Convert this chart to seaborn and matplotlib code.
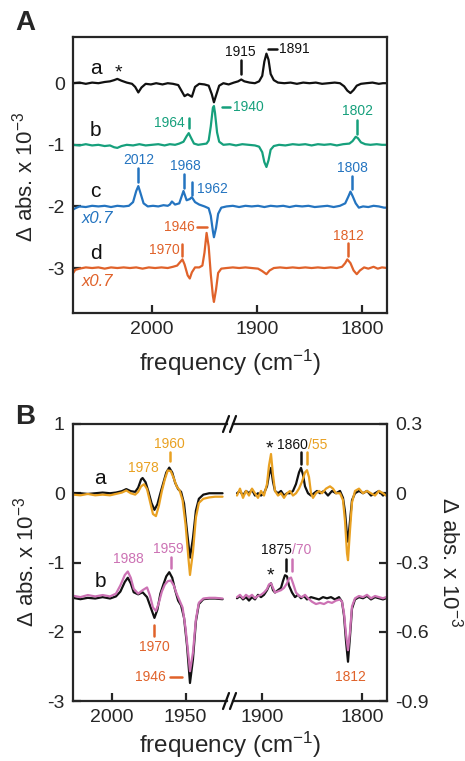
import matplotlib
matplotlib.use('Agg')
import matplotlib.pyplot as plt
from matplotlib.lines import Line2D
import pandas as pd
import seaborn as sns

# ---- spectra: (frequency cm-1, delta abs x 1e-3) ----
# panel A, traces already offset (a: 0, b: -1, c: -2, d: -3)
A_a = [(2075, 0.00), (2069, 0.01), (2063, -0.01), (2057, 0.01), (2051, 0.00), (2045, 0.02),
       (2040, 0.03), (2036, 0.05), (2033, 0.07), (2029, 0.04), (2024, 0.01), (2019, -0.01),
       (2016, -0.06), (2013, -0.15), (2010, -0.07), (2006, -0.01), (2001, -0.02), (1996, 0.00),
       (1990, -0.02), (1985, 0.00), (1980, -0.01), (1975, -0.03), (1972, -0.12), (1969, -0.21),
       (1966, -0.18), (1964, -0.20), (1962, -0.22), (1959, -0.06), (1955, -0.01), (1950, -0.02),
       (1946, -0.04), (1943, -0.18), (1941, -0.31), (1939, -0.20), (1936, -0.04), (1932, 0.00),
       (1927, -0.02), (1922, 0.01), (1918, 0.03), (1915, 0.06), (1912, 0.03), (1907, 0.01),
       (1902, 0.00), (1898, 0.03), (1895, 0.12), (1893, 0.35), (1891, 0.48), (1889, 0.38),
       (1887, 0.15), (1884, 0.05), (1880, 0.01), (1874, 0.00), (1868, 0.01), (1862, -0.01),
       (1856, 0.01), (1850, 0.00), (1844, 0.01), (1838, -0.01), (1832, 0.00), (1826, 0.01),
       (1821, 0.00), (1817, -0.05), (1814, -0.12), (1811, -0.16), (1808, -0.11), (1805, -0.04),
       (1801, -0.01), (1796, 0.00), (1790, 0.01), (1784, -0.01), (1780, 0.00), (1776, 0.00)]

A_b = [(2075, -1.00), (2069, -1.01), (2063, -0.99), (2057, -1.01), (2051, -1.00), (2045, -1.02),
       (2040, -1.01), (2036, -1.04), (2033, -1.05), (2029, -1.02), (2024, -1.00), (2018, -1.01),
       (2012, -0.99), (2006, -1.01), (2000, -1.00), (1994, -0.99), (1988, -1.01), (1983, -0.99),
       (1978, -1.00), (1974, -0.98), (1970, -0.95), (1967, -0.86), (1965, -0.81), (1963, -0.88),
       (1960, -0.98), (1956, -1.00), (1952, -0.99), (1948, -0.98), (1946, -0.93), (1944, -0.70),
       (1942, -0.40), (1941, -0.37), (1940, -0.48), (1938, -0.80), (1936, -0.95), (1932, -1.00),
       (1926, -0.99), (1920, -1.01), (1914, -0.99), (1908, -1.00), (1902, -1.01), (1898, -1.03),
       (1895, -1.12), (1893, -1.28), (1891, -1.36), (1889, -1.25), (1887, -1.08), (1884, -1.02),
       (1879, -1.00), (1873, -1.01), (1866, -0.99), (1860, -1.00), (1854, -0.99), (1848, -1.01),
       (1842, -0.99), (1836, -1.00), (1830, -0.99), (1824, -1.01), (1818, -0.99), (1812, -0.98),
       (1809, -0.94), (1806, -0.87), (1804, -0.89), (1801, -0.96), (1797, -0.99), (1792, -1.00),
       (1786, -0.99), (1781, -1.00), (1776, -1.00)]

A_c = [(2075, -2.05), (2073, -2.03), (2069, -2.00), (2063, -2.01), (2057, -1.99), (2051, -2.00),
       (2045, -1.99), (2039, -2.01), (2033, -1.99), (2027, -2.00), (2022, -1.99), (2018, -1.93),
       (2015, -1.75), (2013, -1.67), (2011, -1.78), (2008, -1.95), (2004, -2.00), (1999, -1.99),
       (1994, -2.00), (1989, -1.98), (1985, -1.99), (1983, -1.97), (1981, -1.92), (1978, -1.97),
       (1974, -1.95), (1972, -1.85), (1970, -1.75), (1967, -1.90), (1964, -1.88), (1962, -1.85),
       (1959, -1.93), (1955, -1.97), (1950, -2.00), (1946, -2.03), (1944, -2.15), (1942, -2.40),
       (1941, -2.50), (1939, -2.35), (1937, -2.12), (1934, -2.02), (1929, -2.00), (1923, -1.99),
       (1917, -2.01), (1911, -1.99), (1905, -2.00), (1899, -1.99), (1893, -2.01), (1887, -1.99),
       (1881, -2.00), (1875, -1.99), (1869, -2.01), (1863, -1.99), (1857, -2.00), (1851, -1.99),
       (1845, -2.01), (1839, -2.00), (1833, -1.99), (1827, -2.01), (1821, -1.99), (1816, -1.95),
       (1813, -1.84), (1811, -1.76), (1809, -1.83), (1806, -1.95), (1803, -2.02), (1799, -2.00),
       (1794, -2.01), (1789, -1.99), (1784, -2.00), (1779, -2.02), (1776, -2.02)]

A_d = [(2075, -3.08), (2073, -3.03), (2069, -3.01), (2063, -2.99), (2057, -3.00), (2051, -2.99),
       (2045, -3.01), (2039, -2.99), (2033, -3.00), (2027, -2.99), (2021, -3.00), (2015, -2.99),
       (2009, -3.01), (2003, -2.99), (1997, -3.00), (1991, -2.99), (1985, -3.00), (1980, -2.98),
       (1976, -2.96), (1973, -2.90), (1971, -2.86), (1969, -2.94), (1966, -3.12), (1964, -3.17),
       (1962, -3.07), (1959, -2.99), (1955, -2.99), (1952, -2.96), (1950, -2.75), (1948, -2.43),
       (1946, -2.65), (1944, -3.10), (1942, -3.45), (1941, -3.55), (1939, -3.35), (1937, -3.08),
       (1934, -3.01), (1929, -3.00), (1923, -2.99), (1917, -3.00), (1911, -2.99), (1905, -3.00),
       (1899, -3.01), (1895, -3.05), (1891, -3.10), (1888, -3.04), (1884, -3.00), (1878, -2.99),
       (1872, -3.00), (1866, -2.99), (1860, -3.00), (1854, -2.99), (1848, -3.00), (1842, -2.99),
       (1836, -3.00), (1830, -2.99), (1824, -3.00), (1819, -2.98), (1816, -2.92), (1814, -2.86),
       (1811, -2.92), (1808, -3.04), (1805, -3.10), (1802, -3.04), (1798, -2.99), (1794, -3.01),
       (1789, -2.98), (1785, -3.01), (1781, -2.99), (1776, -3.00)]

# panel B, left segment (left axis), a at 0, b at -1.5
B_a_black_L = [(2026, 0.00), (2021, 0.00), (2016, -0.01), (2011, 0.00), (2006, 0.01), (2001, 0.00),
               (1997, 0.01), (1993, 0.03), (1990, 0.06), (1987, 0.03), (1984, 0.02), (1982, 0.08),
               (1980, 0.20), (1979, 0.22), (1977, 0.16), (1975, 0.02), (1973, -0.14), (1971, -0.24),
               (1969, -0.16), (1967, 0.00), (1965, 0.15), (1963, 0.30), (1961, 0.37), (1959, 0.30),
               (1957, 0.15), (1955, 0.06), (1953, 0.02), (1951, -0.15), (1949, -0.55), (1947, -0.93),
               (1945, -0.65), (1943, -0.25), (1941, -0.08), (1938, -0.02), (1934, 0.00), (1930, 0.00),
               (1925, 0.00)]
B_a_gold_L = [(2026, -0.02), (2021, -0.03), (2016, -0.01), (2011, -0.03), (2006, -0.02), (2001, -0.03),
              (1997, -0.01), (1993, 0.01), (1990, 0.04), (1987, 0.00), (1984, -0.02), (1982, 0.02),
              (1980, 0.10), (1978, 0.13), (1976, 0.06), (1974, -0.12), (1972, -0.30), (1970, -0.33),
              (1968, -0.18), (1966, 0.03), (1964, 0.20), (1962, 0.33), (1960, 0.32), (1958, 0.22),
              (1956, 0.10), (1954, 0.04), (1952, -0.10), (1950, -0.45), (1948, -0.95), (1947, -1.18),
              (1945, -0.85), (1943, -0.35), (1941, -0.14), (1938, -0.08), (1934, -0.06), (1930, -0.05),
              (1925, -0.05)]
B_b_black_L = [(2026, -1.51), (2021, -1.53), (2016, -1.51), (2011, -1.52), (2006, -1.50), (2001, -1.52),
               (1997, -1.49), (1994, -1.42), (1991, -1.28), (1989, -1.22), (1987, -1.30), (1985, -1.43),
               (1982, -1.46), (1979, -1.43), (1976, -1.50), (1973, -1.68), (1971, -1.80), (1969, -1.68),
               (1967, -1.45), (1965, -1.32), (1963, -1.20), (1961, -1.14), (1959, -1.22), (1957, -1.40),
               (1955, -1.55), (1953, -1.62), (1951, -1.80), (1949, -2.20), (1947, -2.74), (1945, -2.40),
               (1943, -1.85), (1941, -1.60), (1938, -1.53), (1934, -1.52), (1930, -1.52), (1925, -1.53)]
B_b_pink_L = [(2026, -1.48), (2021, -1.50), (2016, -1.47), (2011, -1.49), (2006, -1.47), (2001, -1.49),
              (1997, -1.45), (1994, -1.33), (1991, -1.18), (1989, -1.13), (1987, -1.22), (1985, -1.38),
              (1982, -1.45), (1979, -1.40), (1976, -1.36), (1974, -1.48), (1972, -1.65), (1970, -1.70),
              (1968, -1.58), (1966, -1.42), (1964, -1.32), (1962, -1.27), (1960, -1.26), (1958, -1.33),
              (1956, -1.45), (1954, -1.55), (1952, -1.65), (1950, -1.95), (1948, -2.35), (1947, -2.57),
              (1945, -2.30), (1943, -1.82), (1941, -1.58), (1938, -1.52), (1934, -1.51), (1930, -1.51),
              (1925, -1.52)]

# panel B, right segment (right axis, 0.3 scale), a at 0, b at -0.45
B_a_black_R = [(1925, 0.00), (1922, 0.01), (1919, -0.01), (1916, 0.01), (1913, 0.00), (1910, 0.015),
               (1907, -0.01), (1904, 0.00), (1901, -0.01), (1898, 0.00), (1895, 0.03), (1893, 0.08),
               (1891, 0.11), (1889, 0.05), (1887, 0.01), (1884, 0.00), (1881, 0.01), (1878, -0.01),
               (1875, 0.00), (1872, 0.00), (1869, 0.01), (1866, 0.04), (1863, 0.09), (1861, 0.11),
               (1859, 0.08), (1857, 0.03), (1854, 0.00), (1851, -0.01), (1848, 0.00), (1845, 0.01),
               (1842, 0.00), (1838, 0.01), (1834, -0.01), (1830, 0.01), (1826, 0.00), (1822, 0.01),
               (1819, -0.02), (1817, -0.08), (1815, -0.18), (1814, -0.21), (1812, -0.12), (1810, -0.03),
               (1807, 0.00), (1803, 0.01), (1799, 0.00), (1795, 0.01), (1791, -0.01), (1787, 0.00),
               (1783, 0.01), (1779, -0.01), (1776, 0.00)]
B_a_gold_R = [(1925, -0.01), (1922, 0.02), (1919, -0.02), (1916, 0.01), (1913, -0.01), (1910, 0.02),
              (1907, 0.00), (1904, -0.02), (1901, 0.01), (1898, -0.01), (1895, 0.04), (1893, 0.12),
              (1891, 0.17), (1889, 0.08), (1887, 0.01), (1884, -0.01), (1881, 0.00), (1878, -0.02),
              (1875, 0.00), (1872, 0.01), (1869, -0.01), (1866, 0.00), (1863, 0.02), (1860, 0.05),
              (1857, 0.09), (1855, 0.10), (1853, 0.07), (1851, 0.00), (1849, -0.02), (1846, 0.00),
              (1843, 0.01), (1840, 0.00), (1836, 0.02), (1832, 0.03), (1829, 0.02), (1826, 0.00),
              (1822, 0.00), (1819, -0.03), (1817, -0.12), (1815, -0.26), (1814, -0.29), (1812, -0.16),
              (1810, -0.04), (1807, 0.01), (1803, 0.02), (1799, 0.00), (1795, 0.01), (1791, 0.00),
              (1787, -0.01), (1783, 0.01), (1779, 0.00), (1776, -0.01)]
B_b_black_R = [(1925, -0.455), (1922, -0.445), (1919, -0.46), (1916, -0.45), (1913, -0.465), (1910, -0.45),
               (1907, -0.46), (1904, -0.44), (1901, -0.45), (1898, -0.44), (1895, -0.42), (1893, -0.40),
               (1891, -0.39), (1889, -0.42), (1887, -0.43), (1884, -0.42), (1881, -0.41), (1879, -0.38),
               (1877, -0.355), (1875, -0.36), (1873, -0.40), (1870, -0.43), (1867, -0.45), (1864, -0.44),
               (1861, -0.455), (1858, -0.445), (1855, -0.46), (1851, -0.45), (1847, -0.455), (1843, -0.46),
               (1839, -0.45), (1835, -0.455), (1831, -0.45), (1827, -0.46), (1823, -0.45), (1820, -0.47),
               (1818, -0.53), (1816, -0.64), (1814, -0.73), (1812, -0.62), (1810, -0.50), (1807, -0.46),
               (1803, -0.45), (1799, -0.455), (1795, -0.445), (1791, -0.46), (1787, -0.45), (1783, -0.455),
               (1779, -0.46), (1776, -0.455)]
B_b_pink_R = [(1925, -0.45), (1922, -0.44), (1919, -0.455), (1916, -0.44), (1913, -0.45), (1910, -0.44),
              (1907, -0.455), (1904, -0.445), (1901, -0.44), (1898, -0.43), (1895, -0.415), (1893, -0.395),
              (1891, -0.39), (1889, -0.41), (1887, -0.43), (1884, -0.425), (1881, -0.42), (1878, -0.41),
              (1875, -0.39), (1873, -0.37), (1871, -0.365), (1869, -0.39), (1866, -0.43), (1863, -0.445),
              (1860, -0.45), (1857, -0.44), (1854, -0.455), (1850, -0.47), (1846, -0.48), (1842, -0.475),
              (1838, -0.48), (1834, -0.47), (1830, -0.475), (1826, -0.465), (1822, -0.46), (1820, -0.47),
              (1818, -0.52), (1816, -0.61), (1814, -0.68), (1812, -0.60), (1810, -0.49), (1807, -0.455),
              (1803, -0.445), (1799, -0.45), (1795, -0.44), (1791, -0.455), (1787, -0.445), (1783, -0.45),
              (1779, -0.455), (1776, -0.45)]

A_xticks = [2000, 1900, 1800]
A_yticks = [0, -1, -2, -3]
BL_xticks = [2000, 1950]
BR_xticks = [1900, 1800]
BL_yticks = [1, 0, -1, -2, -3]
BR_yticks = [0.3, 0, -0.3, -0.6, -0.9]

BLACK = '#111111'
GREEN = '#16a07c'
BLUE = '#2474c0'
ORANGE = '#e0622a'
GOLD = '#e9a122'
PINK = '#cc72b4'

sns.set_style('ticks')
plt.rcParams['font.family'] = ['Liberation Sans', 'DejaVu Sans']
plt.rcParams['mathtext.fontset'] = 'custom'
plt.rcParams['mathtext.rm'] = 'Liberation Sans'
plt.rcParams['mathtext.it'] = 'Liberation Sans:italic'
plt.rcParams['axes.unicode_minus'] = False
plt.rcParams['axes.linewidth'] = 1.6

W, H = 465, 761
fig = plt.figure(figsize=(W / 100, H / 100), dpi=100)


def box(x0, y0, x1, y1):
    return [x0 / W, 1 - y1 / H, (x1 - x0) / W, (y1 - y0) / H]


def trace(ax, pts, color, lw=1.6):
    df = pd.DataFrame(pts, columns=['freq', 'dabs'])
    sns.lineplot(data=df, x='freq', y='dabs', color=color, lw=lw, ax=ax,
                 sort=False, estimator=None)


def style(ax):
    ax.tick_params(direction='in', length=6, width=1.6, labelsize=14, pad=6)
    ax.set_xlabel('')
    ax.set_ylabel('')


def vmark(ax, f, v1, v2, c):
    ax.plot([f, f], [v1, v2], color=c, lw=1.8)


def hmark(ax, f1, f2, v, c):
    ax.plot([f1, f2], [v, v], color=c, lw=1.8)


def lab(ax, f, v, s, c, size=10, ha='center', **kw):
    ax.text(f, v, s, color=c, fontsize=size, ha=ha, va='center', **kw)


fmt = lambda v: '0' if v == 0 else ('%g' % v)
ylab = 'Δ abs. x 10$^{-3}$'
xlab = 'frequency (cm$^{-1}$)'

# ---------------- panel A ----------------
axA = fig.add_axes(box(73, 37, 387, 313))
for pts, c in [(A_a, BLACK), (A_b, GREEN), (A_c, BLUE), (A_d, ORANGE)]:
    trace(axA, pts, c)
axA.set_xlim(2075.2, 1776.2)
axA.set_ylim(-3.73, 0.75)
axA.set_xticks(A_xticks)
axA.set_yticks(A_yticks)
axA.set_yticklabels([fmt(v) for v in A_yticks])
style(axA)

for s, v in zip('abcd', [0.24, -0.76, -1.76, -2.77]):
    lab(axA, 2053.6, v, s, BLACK, size=15)
lab(axA, 2032, 0.17, '*', BLACK, size=14)
lab(axA, 1915.5, 0.50, '1915', BLACK)
vmark(axA, 1915.5, 0.37, 0.15, BLACK)
hmark(axA, 1889.5, 1881, 0.55, BLACK)
lab(axA, 1879, 0.55, '1891', BLACK, ha='left')
lab(axA, 1968.6, -0.65, '1964', GREEN, ha='right')
vmark(axA, 1964.8, -0.57, -0.73, GREEN)
hmark(axA, 1933.6, 1925.7, -0.39, GREEN)
lab(axA, 1922.5, -0.39, '1940', GREEN, ha='left')
lab(axA, 1804.5, -0.45, '1802', GREEN)
vmark(axA, 1804.5, -0.59, -0.82, GREEN)
lab(axA, 2013, -1.25, '2012', BLUE)
vmark(axA, 2013, -1.38, -1.60, BLUE)
lab(axA, 1968.6, -1.35, '1968', BLUE)
vmark(axA, 1969.5, -1.48, -1.70, BLUE)
lab(axA, 1957.5, -1.72, '1962', BLUE, ha='left')
vmark(axA, 1962, -1.60, -1.82, BLUE)
lab(axA, 1809, -1.37, '1808', BLUE)
vmark(axA, 1810, -1.51, -1.72, BLUE)
lab(axA, 2067, -2.19, 'x0.7', BLUE, size=12, ha='left', style='italic')
lab(axA, 1959, -2.33, '1946', ORANGE, ha='right')
hmark(axA, 1956.9, 1947.3, -2.33, ORANGE)
lab(axA, 1974, -2.70, '1970', ORANGE, ha='right')
vmark(axA, 1971, -2.61, -2.80, ORANGE)
lab(axA, 1813, -2.48, '1812', ORANGE)
vmark(axA, 1813, -2.59, -2.81, ORANGE)
lab(axA, 2067, -3.22, 'x0.7', ORANGE, size=12, ha='left', style='italic')

fig.text(25 / W, 1 - 177 / H, ylab, rotation=90, ha='center', va='center', fontsize=16)
fig.text(230 / W, 1 - 363 / H, xlab, ha='center', va='center', fontsize=17.5)
fig.text(25 / W, 1 - 23 / H, 'A', ha='center', va='center', fontsize=20, fontweight='bold')

# ---------------- panel B (broken x axis) ----------------
axL = fig.add_axes(box(73, 424, 227, 701))
axR = fig.add_axes(box(233, 424, 387, 701))
trace(axL, B_a_black_L, BLACK)
trace(axL, B_a_gold_L, GOLD)
trace(axL, B_b_black_L, BLACK)
trace(axL, B_b_pink_L, PINK)
trace(axR, B_a_black_R, BLACK)
trace(axR, B_a_gold_R, GOLD)
trace(axR, B_b_black_R, BLACK)
trace(axR, B_b_pink_R, PINK)

axL.set_xlim(2026, 1922)
axR.set_xlim(1929, 1775)
axL.set_ylim(-3, 1)
axR.set_ylim(-0.9, 0.3)
axL.set_xticks(BL_xticks)
axR.set_xticks(BR_xticks)
axL.set_yticks(BL_yticks)
axL.set_yticklabels([fmt(v) for v in BL_yticks])
axR.set_yticks(BR_yticks)
axR.set_yticklabels([fmt(v) for v in BR_yticks])
axL.spines['right'].set_visible(False)
axR.spines['left'].set_visible(False)
axR.yaxis.tick_right()
style(axL)
style(axR)

# break marks
for yb in (424, 701):
    for xb in (226, 233):
        fig.add_artist(Line2D([(xb - 3) / W, (xb + 3) / W], [1 - (yb + 8) / H, 1 - (yb - 8) / H],
                              color=BLACK, lw=1.6))

lab(axL, 2007.8, 0.21, 'a', BLACK, size=15)
lab(axL, 2007.8, -1.27, 'b', BLACK, size=15)
lab(axL, 1978.5, 0.37, '1978', GOLD)
lab(axL, 1961, 0.71, '1960', GOLD)
vmark(axL, 1960.5, 0.59, 0.46, GOLD)
lab(axL, 1988.6, -0.95, '1988', PINK)
lab(axL, 1961.6, -0.80, '1959', PINK)
vmark(axL, 1960, -0.92, -1.08, PINK)
vmark(axL, 1971, -1.90, -2.06, ORANGE)
lab(axL, 1971, -2.22, '1970', ORANGE)
lab(axL, 1963.4, -2.65, '1946', ORANGE, ha='right')
hmark(axL, 1960.5, 1952.6, -2.65, ORANGE)

lab(axR, 1892.5, 0.19, '*', BLACK, size=14)
lab(axR, 1853.7, 0.21, '1860', BLACK, ha='right')
lab(axR, 1853.7, 0.21, '/55', GOLD, ha='left')
vmark(axR, 1861.3, 0.177, 0.127, BLACK)
vmark(axR, 1855.3, 0.177, 0.127, GOLD)
lab(axR, 1891.3, -0.36, '*', BLACK, size=14)
lab(axR, 1870.3, -0.248, '1875', BLACK, ha='right')
lab(axR, 1870.3, -0.248, '/70', PINK, ha='left')
vmark(axR, 1876, -0.287, -0.338, BLACK)
vmark(axR, 1870.3, -0.287, -0.338, PINK)
lab(axR, 1812, -0.795, '1812', ORANGE)

fig.text(26 / W, 1 - 562 / H, ylab, rotation=90, ha='center', va='center', fontsize=16)
fig.text(450 / W, 1 - 562 / H, ylab, rotation=270, ha='center', va='center', fontsize=16)
fig.text(230 / W, 1 - 745 / H, xlab, ha='center', va='center', fontsize=17.5)
fig.text(25 / W, 1 - 417 / H, 'B', ha='center', va='center', fontsize=20, fontweight='bold')

fig.savefig('out.png', dpi=100)
